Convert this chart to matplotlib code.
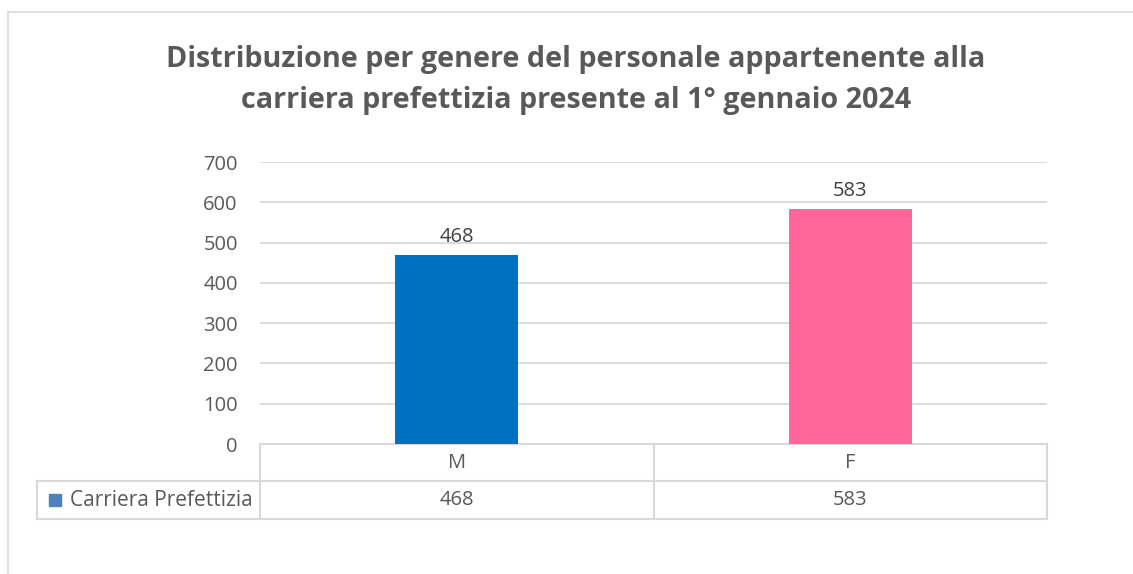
import matplotlib
matplotlib.use("Agg")
import matplotlib.pyplot as plt
from matplotlib.lines import Line2D
from matplotlib.patches import Rectangle

categories = ["M", "F"]
values = [468, 583]
series_name = "Carriera Prefettizia"
bar_colors = ["#0070C0", "#FF6699"]
yticks = [0, 100, 200, 300, 400, 500, 600, 700]
title = "Distribuzione per genere del personale appartenente alla\ncarriera prefettizia presente al 1° gennaio 2024"

plt.rcParams['font.family'] = ['Open Sans', 'DejaVu Sans']
W, H = 1133, 574
fig = plt.figure(figsize=(W / 100, H / 100), dpi=100)
fig.patch.set_facecolor("white")

grid_c = "#d9d9d9"
text_c = "#595959"
fs = 14.5

# outer frame
fig.add_artist(Line2D([8 / W, 1], [1 - 12 / H, 1 - 12 / H], color=grid_c, lw=1.2))
fig.add_artist(Line2D([8 / W, 8 / W], [0, 1 - 12 / H], color=grid_c, lw=1.2))

left, right = 260 / W, 1047 / W
bottom, top = 1 - 444 / H, 1 - 162 / H
ax = fig.add_axes([left, bottom, right - left, top - bottom])
ax.set_xlim(-0.5, len(categories) - 0.5)
ax.set_ylim(0, 700)
for s in ax.spines.values():
    s.set_visible(False)
ax.set_yticks(yticks)
ax.set_yticklabels([str(t) for t in yticks], fontsize=fs, color=text_c)
ax.tick_params(axis='y', length=0, pad=16)
ax.set_xticks([])
ax.grid(axis='y', color=grid_c, lw=1.3)
ax.set_axisbelow(True)

x = list(range(len(categories)))
bars = ax.bar(x, values, width=0.312, color=bar_colors, zorder=3)
for xi, v in zip(x, values):
    ax.annotate(str(v), (xi, v), xytext=(0, 6), textcoords="offset points",
                ha="center", va="bottom", fontsize=fs, color="#404040")

fig.text(576 / W, 1 - 80 / H, title, ha="center", va="center", fontsize=20.7,
         fontweight="bold", color=text_c, linespacing=1.57)

# data table below the axes (axes coordinates)
ph = 444 - 162
y0 = 0.0
y1 = -(481 - 444) / ph
y2 = -(519 - 444) / ph
xl = (37 - 260) / 787
n = len(categories)
tr = ax.transAxes
lines = [
    ([0, 1], [y0, y0]),
    ([xl, 1], [y1, y1]),
    ([xl, 1], [y2, y2]),
    ([xl, xl], [y1, y2]),
]
for i in range(n + 1):
    lines.append(([i / n, i / n], [y0, y2]))
for xs, ys in lines:
    ax.add_line(Line2D(xs, ys, transform=tr, color=grid_c, lw=1.5, clip_on=False))

for i, (c, v) in enumerate(zip(categories, values)):
    xc = (i + 0.5) / n
    ax.text(xc, (y0 + y1) / 2, c, transform=tr, ha="center", va="center",
            fontsize=fs, color=text_c, clip_on=False)
    ax.text(xc, (y1 + y2) / 2, str(v), transform=tr, ha="center", va="center",
            fontsize=fs, color=text_c, clip_on=False)

# legend key in row label
ax.add_patch(Rectangle((xl + 12 / 787, (y1 + y2) / 2 - 6 / ph), 12 / 787, 12 / ph,
                       transform=tr, color="#4F81BD", clip_on=False))
ax.text(xl + 33 / 787, (y1 + y2) / 2, series_name, transform=tr, ha="left", va="center",
        fontsize=15, color=text_c, clip_on=False)

fig.savefig("out.png", dpi=100)
